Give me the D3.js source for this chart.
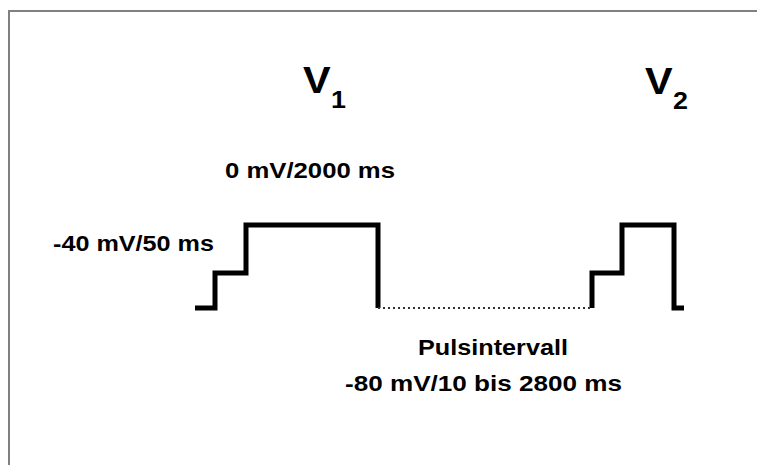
<!DOCTYPE html>
<html>
<head>
<meta charset="utf-8">
<script src="https://cdn.jsdelivr.net/npm/d3@7"></script>
<style>
  html, body { margin: 0; background: #fff; overflow: hidden; }
  svg { display: block; }
  text { font-family: "Liberation Sans", Arial, sans-serif; font-weight: bold; fill: #000; }
</style>
</head>
<body>
<div id="chart"></div>
<script>
// pulse protocol (schematic, not to time scale)
var phases = ["Halten", "V1 Vorpuls", "V1", "Pulsintervall", "V2 Vorpuls", "V2", "Halten"];
var durations = [20, 31, 132, 214, 30, 52, 10];   // schematic widths
var levels = [-80, -40, 0, -80, -40, 0, -80];     // mV

var labels = ["0 mV/2000 ms", "-40 mV/50 ms", "Pulsintervall", "-80 mV/10 bis 2800 ms"];
var pulseNames = ["V", "V"];
var pulseSubs = ["1", "2"];

// layout
var width = 757, height = 465;
var labelPos = [[225, 178, 170], [53, 251, 161], [418, 355, 150], [345, 391, 277]];
var pulsePos = [[303, 93], [645, 94]];

var svg = d3.select("#chart").append("svg")
    .attr("width", width)
    .attr("height", height);

// frame: only top and left edges fall inside the picture
svg.append("path")
    .attr("d", "M9," + (height + 10) + "V11H" + (width + 10))
    .attr("fill", "none")
    .attr("stroke", "#808080")
    .attr("stroke-width", 2);

// scales
var starts = [0];
durations.forEach(function (d, i) { starts.push(starts[i] + d); });
var total = starts[starts.length - 1];

var x = d3.scaleLinear().domain([0, total]).range([195, 684]);
var y = d3.scaleLinear().domain([-80, -40, 0]).range([308, 273, 225]);

var line = d3.line()
    .x(function (d) { return x(d.t); })
    .y(function (d) { return y(d.v); })
    .curve(d3.curveStepAfter);

// split the waveform: solid pulses, dotted interval
var iv = phases.indexOf("Pulsintervall");
var first = [], second = [];
for (var i = 0; i < iv; i++) first.push({t: starts[i], v: levels[i]});
first.push({t: starts[iv], v: levels[iv]});
var interval = [{t: starts[iv], v: levels[iv]}, {t: starts[iv + 1], v: levels[iv]}];
second.push({t: starts[iv + 1], v: levels[iv]});
for (var j = iv + 1; j < phases.length; j++) second.push({t: starts[j], v: levels[j]});
second.push({t: total, v: levels[phases.length - 1]});

[first, second].forEach(function (pts) {
    svg.append("path")
        .datum(pts)
        .attr("d", line)
        .attr("fill", "none")
        .attr("stroke", "#000")
        .attr("stroke-width", 5)
        .attr("stroke-linejoin", "miter");
});

svg.append("path")
    .datum(interval)
    .attr("d", line)
    .attr("fill", "none")
    .attr("stroke", "#333")
    .attr("stroke-width", 2)
    .attr("stroke-dasharray", "2,3");

// annotations
labels.forEach(function (s, k) {
    svg.append("text")
        .attr("x", labelPos[k][0])
        .attr("y", labelPos[k][1])
        .attr("textLength", labelPos[k][2])
        .attr("lengthAdjust", "spacingAndGlyphs")
        .style("font-size", "22px")
        .text(s);
});

// V1 / V2 headings
pulseNames.forEach(function (s, k) {
    var g = svg.append("g")
        .attr("transform", "translate(" + pulsePos[k][0] + "," + pulsePos[k][1] + ") scale(1.12,1)");
    g.append("text").attr("x", 0).attr("y", 0)
        .style("font-size", "37px").text(s);
    g.append("text").attr("x", 25).attr("y", 15)
        .style("font-size", "24px").text(pulseSubs[k]);
});
</script>
</body>
</html>
